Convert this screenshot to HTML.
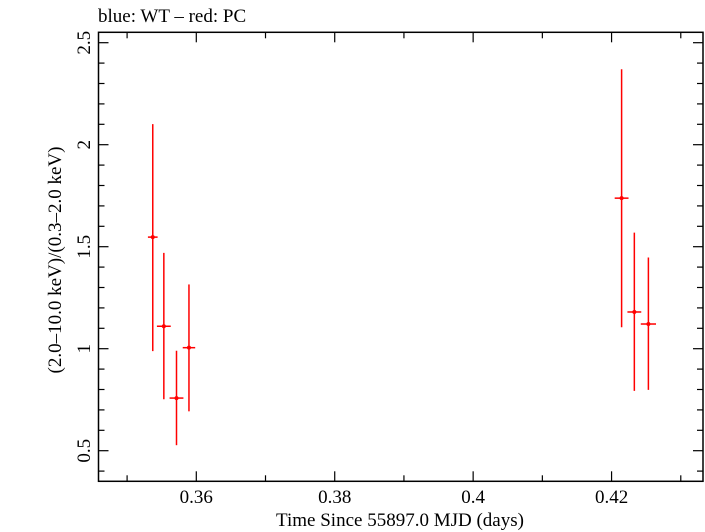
<!DOCTYPE html>
<html><head><meta charset="utf-8"><style>
body{margin:0;background:#fff;}
svg{display:block;font-family:"Liberation Serif",serif;}
</style></head><body>
<svg id="chart" width="705" height="532">
<text x="98" y="22" font-size="19">blue: WT – red: PC</text>
<rect x="98.5" y="32.3" width="604.5" height="449" fill="none" stroke="#000" stroke-width="1.5"/>
<g id="ticks"></g>
<g id="marks"></g>
<text x="400" y="526" font-size="19" text-anchor="middle">Time Since 55897.0 MJD (days)</text>
<text transform="translate(61,260) rotate(-90)" font-size="19" text-anchor="middle">(2.0–10.0 keV)/(0.3–2.0 keV)</text>
</svg>
<script>
const times=[0.35371,0.35531,0.35714,0.35894,0.42145,0.42329,0.42532];
const timeErr=[0.0007,0.001,0.001,0.0009,0.001,0.001,0.0011];
const ratios=[1.547,1.11,0.758,1.005,1.738,1.18,1.121];
const errHigh=[2.101,1.47,0.99,1.315,2.37,1.569,1.447];
const errLow=[0.988,0.752,0.527,0.693,1.105,0.793,0.798];
const xTicks=[0.36,0.38,0.4,0.42];
const xTickLabels=["0.36","0.38","0.4","0.42"];
const yTicks=[0.5,1,1.5,2,2.5];
const yTickLabels=["0.5","1","1.5","2","2.5"];
const L=98.5,R=703,T=32.3,B=481.3;
const x0=0.34587,x1=0.43321,y0=0.35,y1=2.551;
const xs=v=>L+(v-x0)/(x1-x0)*(R-L);
const ys=v=>B-(v-y0)/(y1-y0)*(B-T);
const NS="http://www.w3.org/2000/svg";
function mk(tag,attrs,parent){const e=document.createElementNS(NS,tag);for(const k in attrs)e.setAttribute(k,attrs[k]);parent.appendChild(e);return e;}
const tg=document.getElementById('ticks');
for(let v=0.35;v<x1;v+=0.01){const x=xs(v);const major=xTicks.some(t=>Math.abs(t-v)<1e-6);const len=major?10:6;
 const a=mk('line',{x1:x,x2:x,y1:B,y2:B-len,stroke:'#000','stroke-width':1.2},tg);
 
 const b=mk('line',{x1:x,x2:x,y1:T,y2:T+len,stroke:'#000','stroke-width':1.2},tg);
 }
xTicks.forEach((v,i)=>{const t=mk('text',{x:xs(v),y:503,'font-size':19,'text-anchor':'middle'},tg);t.textContent=xTickLabels[i];
 });
for(let k=4;k<=25;k++){const v=k/10;const y=ys(v);const major=k%5===0;const len=major?10:6;
 const a=mk('line',{x1:L,x2:L+len,y1:y,y2:y,stroke:'#000','stroke-width':1.2},tg);
 
 const b=mk('line',{x1:R,x2:R-len,y1:y,y2:y,stroke:'#000','stroke-width':1.2},tg);
 }
yTicks.forEach((v,i)=>{const t=mk('text',{transform:`translate(90,${ys(v)}) rotate(-90)`,'font-size':19,'text-anchor':'middle'},tg);t.textContent=yTickLabels[i];
 });
const mg=document.getElementById('marks');
times.forEach((t,i)=>{const g=mk('g',{},mg);
 
 mk('line',{x1:xs(t),x2:xs(t),y1:ys(errLow[i]),y2:ys(errHigh[i]),stroke:'#f00','stroke-width':1.5},g);
 mk('line',{x1:xs(t-timeErr[i]),x2:xs(t+timeErr[i]),y1:ys(ratios[i]),y2:ys(ratios[i]),stroke:'#f00','stroke-width':1.5},g);
 mk('circle',{cx:xs(t),cy:ys(ratios[i]),r:2,fill:'#f00'},g);});
</script>
</body></html>
